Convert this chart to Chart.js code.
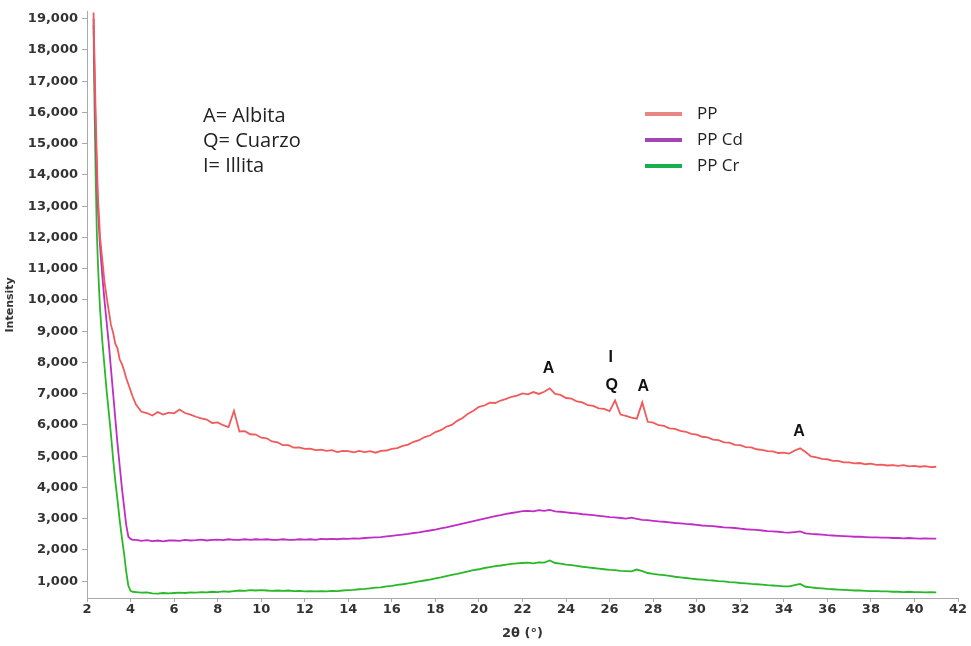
<!DOCTYPE html>
<html>
<head>
<meta charset="utf-8">
<script src="https://cdn.jsdelivr.net/npm/chart.js@4.4.1/dist/chart.umd.min.js"></script>
<style>
  html, body { margin: 0; padding: 0; background: #fff; }
  #wrap { width: 971px; height: 646px; position: relative; }
</style>
</head>
<body>
<div id="wrap"><canvas id="xrd"></canvas></div>
<script>
// ángulos 2θ (°)
const angles = [
  2.3, 2.35, 2.4, 2.45, 2.5, 2.55, 2.6, 2.7, 2.8, 2.9, 3.0, 3.1, 3.2, 3.3, 3.4, 3.5, 3.6, 3.7, 3.8, 3.9, 4.0, 4.1,
  4.25, 4.5, 4.75, 5.0, 5.25, 5.5, 5.75, 6.0,
  6.25, 6.5, 6.75, 7.0, 7.25, 7.5, 7.75, 8.0,
  8.25, 8.5, 8.75, 9.0, 9.25, 9.5, 9.75, 10.0,
  10.25, 10.5, 10.75, 11.0, 11.25, 11.5, 11.75, 12.0,
  12.25, 12.5, 12.75, 13.0, 13.25, 13.5, 13.75, 14.0,
  14.25, 14.5, 14.75, 15.0, 15.25, 15.5, 15.75, 16.0,
  16.25, 16.5, 16.75, 17.0, 17.25, 17.5, 17.75, 18.0,
  18.25, 18.5, 18.75, 19.0, 19.25, 19.5, 19.75, 20.0,
  20.25, 20.5, 20.75, 21.0, 21.25, 21.5, 21.75, 22.0,
  22.25, 22.5, 22.75, 23.0, 23.25, 23.5, 23.75, 24.0,
  24.25, 24.5, 24.75, 25.0, 25.25, 25.5, 25.75, 26.0,
  26.25, 26.5, 26.75, 27.0, 27.25, 27.5, 27.75, 28.0,
  28.25, 28.5, 28.75, 29.0, 29.25, 29.5, 29.75, 30.0,
  30.25, 30.5, 30.75, 31.0, 31.25, 31.5, 31.75, 32.0,
  32.25, 32.5, 32.75, 33.0, 33.25, 33.5, 33.75, 34.0,
  34.25, 34.5, 34.75, 35.0, 35.25, 35.5, 35.75, 36.0,
  36.25, 36.5, 36.75, 37.0, 37.25, 37.5, 37.75, 38.0,
  38.25, 38.5, 38.75, 39.0, 39.25, 39.5, 39.75, 40.0,
  40.25, 40.5, 40.75, 41.0
];

const ppValues = [
  19200, 17500, 15900, 14600, 13300, 12700, 12000, 11300, 10600, 10100, 9650, 9200, 8950, 8600, 8450, 8100, 7950, 7750, 7500, 7300, 7100, 6900,
  6650, 6420, 6380, 6300, 6410, 6330, 6390, 6370,
  6490, 6380, 6330, 6260, 6210, 6170, 6060, 6080,
  5990, 5930, 6450, 5790, 5800, 5700, 5690, 5590,
  5570, 5470, 5440, 5350, 5350, 5270, 5280, 5230,
  5240, 5190, 5210, 5170, 5190, 5130, 5170, 5160,
  5120, 5170, 5130, 5160, 5110, 5170, 5180, 5230,
  5260, 5330, 5370, 5460, 5510, 5610, 5660, 5770,
  5830, 5940, 6000, 6130, 6220, 6360, 6450, 6580,
  6620, 6710, 6700, 6780, 6830, 6900, 6940, 7010,
  6980, 7050, 6990, 7060, 7170, 6990, 6960, 6860,
  6840, 6750, 6720, 6630, 6610, 6530, 6510, 6440,
  6780, 6330, 6290, 6230, 6200, 6720, 6100, 6070,
  5990, 5970, 5890, 5870, 5810, 5780, 5710, 5690,
  5620, 5600, 5530, 5510, 5440, 5430, 5360, 5350,
  5290, 5280, 5220, 5200, 5160, 5150, 5100, 5110,
  5080, 5180, 5250, 5130, 4990, 4960, 4910, 4900,
  4850, 4850, 4800, 4800, 4770, 4780, 4740, 4760,
  4720, 4730, 4700, 4710, 4690, 4710, 4670, 4690,
  4660, 4680, 4650, 4660
];

const ppCdValues = [
  19000, 17000, 15300, 14000, 13000, 12300, 11700, 10800, 10000, 9300, 8600, 7800, 7000, 6200, 5400, 4700, 4000, 3400, 2800, 2420, 2350, 2320,
  2320, 2290, 2310, 2280, 2300, 2270, 2300, 2300,
  2290, 2320, 2300, 2310, 2330, 2300, 2320, 2330,
  2310, 2340, 2320, 2320, 2340, 2320, 2340, 2330,
  2340, 2320, 2320, 2340, 2320, 2320, 2340, 2330,
  2340, 2320, 2350, 2340, 2350, 2340, 2360, 2350,
  2370, 2360, 2380, 2390, 2400, 2410, 2430, 2450,
  2470, 2490, 2510, 2540, 2560, 2590, 2620, 2650,
  2690, 2720, 2760, 2800, 2840, 2880, 2920, 2960,
  3000, 3040, 3080, 3110, 3150, 3180, 3210, 3240,
  3250, 3230, 3270, 3250, 3280, 3230, 3220, 3200,
  3180, 3170, 3140, 3130, 3110, 3090, 3070, 3050,
  3040, 3020, 3000, 3030, 2990, 2960, 2950, 2930,
  2910, 2900, 2880, 2860, 2850, 2830, 2820, 2800,
  2780, 2770, 2760, 2740, 2720, 2710, 2700, 2680,
  2660, 2650, 2640, 2620, 2600, 2590, 2580, 2560,
  2550, 2570, 2590, 2530, 2510, 2500, 2490, 2470,
  2460, 2450, 2440, 2430, 2420, 2420, 2410, 2400,
  2400, 2390, 2390, 2380, 2380, 2370, 2380, 2370,
  2360, 2370, 2360, 2360
];

const ppCrValues = [
  18800, 16000, 13900, 12200, 11200, 10400, 9700, 8700, 7900, 7100, 6400, 5700, 4900, 4200, 3600, 2950, 2400, 1900, 1300, 850, 690, 660,
  650, 630, 640, 610, 600, 620, 610, 620,
  630, 620, 640, 630, 650, 640, 660, 650,
  670, 660, 680, 700, 690, 710, 700, 710,
  700, 690, 700, 690, 700, 680, 690, 670,
  680, 670, 680, 670, 690, 680, 700, 710,
  720, 740, 750, 770, 790, 800, 830, 850,
  880, 900, 930, 960, 990, 1020, 1050, 1090,
  1120, 1160, 1200, 1230, 1270, 1310, 1350, 1380,
  1420, 1450, 1480, 1500, 1530, 1550, 1570, 1580,
  1590, 1570, 1600, 1590, 1660, 1580, 1560, 1530,
  1510, 1490, 1460, 1440, 1420, 1400, 1380, 1360,
  1350, 1330, 1320, 1310, 1370, 1320, 1260, 1230,
  1210, 1190, 1170, 1140, 1120, 1100, 1080, 1060,
  1050, 1030, 1020, 1000, 990, 970, 960, 940,
  930, 910, 900, 890, 870, 860, 850, 830,
  830, 870, 910, 820, 800, 780, 770, 750,
  740, 730, 720, 710, 700, 700, 690, 680,
  680, 670, 670, 660, 660, 650, 660, 650,
  650, 640, 650, 640
];

const seriesNames = ['PP', 'PP Cd', 'PP Cr'];
const lineColors = ['#f05a5a', '#c02cc4', '#28b828'];
const legendColors = ['#e88686', '#a545b5', '#16b04e'];

const yTicks = [1000, 2000, 3000, 4000, 5000, 6000, 7000, 8000, 9000, 10000,
  11000, 12000, 13000, 14000, 15000, 16000, 17000, 18000, 19000];

const keyLines = ['A= Albita', 'Q= Cuarzo', 'I= Illita'];

// etiquetas de picos (posición en unidades de datos)
const peakLabels = [
  { text: 'A', x: 23.2, y: 7800 },
  { text: 'I', x: 26.05, y: 8150 },
  { text: 'Q', x: 26.1, y: 7260 },
  { text: 'A', x: 27.55, y: 7220 },
  { text: 'A', x: 34.7, y: 5790 }
];

const toPoints = vals => vals.map((v, i) => ({ x: angles[i], y: v }));

const overlay = {
  id: 'overlay',
  afterDraw(chart) {
    const ctx = chart.ctx;
    const xs = chart.scales.x, ys = chart.scales.y;
    ctx.save();
    ctx.textBaseline = 'middle';

    // clave de minerales
    ctx.font = '20px "Open Sans"';
    ctx.fillStyle = '#222';
    ctx.textAlign = 'left';
    keyLines.forEach((t, i) => ctx.fillText(t, 203, 116 + i * 25));

    // leyenda
    ctx.font = '17px "Open Sans"';
    seriesNames.forEach((name, i) => {
      const y = 114 + i * 26;
      ctx.strokeStyle = legendColors[i];
      ctx.lineWidth = 4;
      ctx.beginPath();
      ctx.moveTo(645, y);
      ctx.lineTo(682, y);
      ctx.stroke();
      ctx.fillStyle = '#222';
      ctx.fillText(name, 697, y);
    });

    // picos
    ctx.font = 'bold 16px "Liberation Sans"';
    ctx.fillStyle = '#111';
    ctx.textAlign = 'center';
    peakLabels.forEach(p => {
      ctx.fillText(p.text, xs.getPixelForValue(p.x), ys.getPixelForValue(p.y));
    });
    ctx.restore();
  }
};

const tickFont = { family: 'DejaVu Sans', size: 13, weight: 'bold' };

new Chart(document.getElementById('xrd'), {
  type: 'line',
  data: {
    datasets: [ppValues, ppCdValues, ppCrValues].map((vals, i) => ({
      label: seriesNames[i],
      data: toPoints(vals),
      borderColor: lineColors[i],
      borderWidth: 1.8,
      pointRadius: 0,
      tension: 0,
      fill: false
    }))
  },
  options: {
    responsive: true,
    maintainAspectRatio: false,
    animation: false,
    layout: { padding: { top: 10, right: 13, left: 0, bottom: 0 } },
    plugins: {
      legend: { display: false },
      tooltip: { enabled: false }
    },
    scales: {
      x: {
        type: 'linear',
        min: 2,
        max: 42,
        afterFit: s => { s.height = 48; },
        grid: { drawOnChartArea: false, drawTicks: true, tickLength: 4, color: '#aaa' },
        border: { display: true, color: '#aaa', width: 1 },
        ticks: { stepSize: 2, color: '#333', font: tickFont, padding: 0, maxRotation: 0 },
        title: {
          display: true,
          text: '2θ (°)',
          color: '#333',
          font: { family: 'DejaVu Sans', size: 13, weight: 'bold' },
          padding: { top: 0, bottom: 5 }
        }
      },
      y: {
        type: 'linear',
        min: 460,
        max: 19220,
        afterFit: s => { s.width = 87; },
        afterBuildTicks: s => { s.ticks = yTicks.map(v => ({ value: v })); },
        grid: { drawOnChartArea: false, drawTicks: true, tickLength: 5, color: '#aaa' },
        border: { display: true, color: '#aaa', width: 1 },
        ticks: {
          color: '#333',
          font: tickFont,
          padding: 4,
          callback: v => v.toLocaleString('en-US')
        },
        title: {
          display: true,
          text: 'Intensity',
          color: '#333',
          font: { family: 'DejaVu Sans', size: 11, weight: 'bold' },
          padding: { top: 4, bottom: 0 }
        }
      }
    }
  },
  plugins: [overlay]
});
</script>
</body>
</html>
